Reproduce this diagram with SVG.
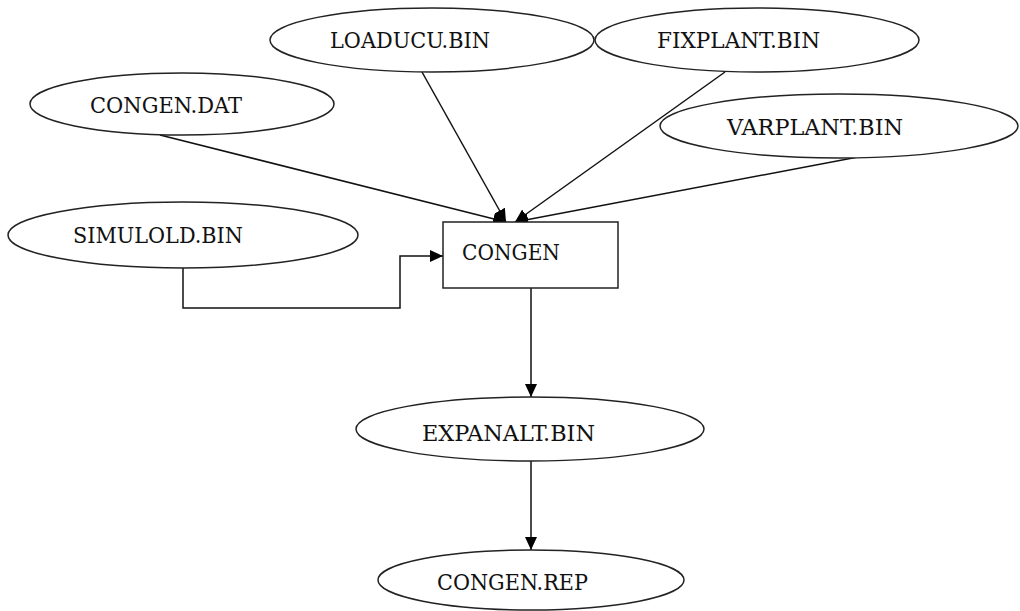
<svg xmlns="http://www.w3.org/2000/svg" width="1020" height="611" viewBox="0 0 1020 611">
  <defs>
    <marker id="arrow" markerUnits="userSpaceOnUse" markerWidth="14" markerHeight="12" refX="13" refY="6" orient="auto">
      <path d="M0,0 L13,6 L0,12 Z" fill="#000"/>
    </marker>
    <style>
      .node ellipse, .node rect { fill: #fff; stroke: #222; stroke-width: 1.5; }
      .node text { font-family: "DejaVu Serif Condensed", "DejaVu Serif", serif; font-size: 22px; fill: #111; }
      .edges path, .edges line { fill: none; stroke: #111; stroke-width: 1.5; marker-end: url(#arrow); }
    </style>
  </defs>
  <rect width="1020" height="611" fill="#fff"/>

  <g class="edges">
    <line x1="160" y1="135" x2="506" y2="222"/>
    <line x1="422" y1="72" x2="506" y2="222"/>
    <line x1="725" y1="72" x2="515" y2="222"/>
    <line x1="858" y1="157" x2="515" y2="222"/>
    <path d="M183,268 L183,308 L400,308 L400,256 L443,256"/>
    <line x1="531" y1="288" x2="531" y2="397"/>
    <line x1="531" y1="461" x2="531" y2="550"/>
  </g>

  <g id="loaducu" class="node">
    <ellipse cx="432" cy="40" rx="162" ry="32"/>
    <text x="330" y="48" textLength="160" lengthAdjust="spacingAndGlyphs">LOADUCU.BIN</text>
  </g>
  <g id="fixplant" class="node">
    <ellipse cx="757" cy="40" rx="162" ry="32"/>
    <text x="657" y="48" textLength="163" lengthAdjust="spacingAndGlyphs">FIXPLANT.BIN</text>
  </g>
  <g id="congen-dat" class="node">
    <ellipse cx="182" cy="104" rx="152" ry="31"/>
    <text x="90" y="113" textLength="152" lengthAdjust="spacingAndGlyphs">CONGEN.DAT</text>
  </g>
  <g id="varplant" class="node">
    <ellipse cx="839" cy="126" rx="179" ry="32"/>
    <text x="727" y="135" textLength="176" lengthAdjust="spacingAndGlyphs">VARPLANT.BIN</text>
  </g>
  <g id="simulold" class="node">
    <ellipse cx="183" cy="235" rx="175" ry="33"/>
    <text x="73" y="243" textLength="170" lengthAdjust="spacingAndGlyphs">SIMULOLD.BIN</text>
  </g>
  <g id="congen" class="node">
    <rect x="443" y="222" width="175" height="66"/>
    <text x="462" y="260" textLength="98" lengthAdjust="spacingAndGlyphs">CONGEN</text>
  </g>
  <g id="expanalt" class="node">
    <ellipse cx="530" cy="429" rx="174" ry="32"/>
    <text x="422" y="441" textLength="173" lengthAdjust="spacingAndGlyphs">EXPANALT.BIN</text>
  </g>
  <g id="congen-rep" class="node">
    <ellipse cx="531" cy="580" rx="153" ry="30"/>
    <text x="437" y="590" textLength="151" lengthAdjust="spacingAndGlyphs">CONGEN.REP</text>
  </g>
</svg>
